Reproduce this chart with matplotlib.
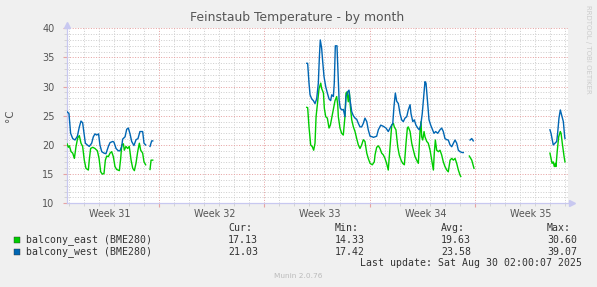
import numpy as np
import matplotlib
matplotlib.use("Agg")
import matplotlib.pyplot as plt
from matplotlib.ticker import FixedLocator, MultipleLocator, NullFormatter

# ---------------- data (time in days since graph start) ----------------
nan = np.nan
west_t = [0.00, 0.13, 0.24, 0.38, 0.53, 0.69, 0.82, 0.93, 1.04, 1.13, 1.22, 1.35, 1.48, 1.64, 1.75, 1.86,
          1.97, 2.10, 2.19, 2.31, 2.46, 2.59, 2.75, 2.86, 3.04, 3.12, 3.26, 3.41, 3.52, 3.64, 3.70, 3.86,
          3.97, 4.08, 4.19, 4.30, 4.45, 4.59, 4.72, 4.85, 5.03, 5.12, 5.23, 5.37, 5.52, 5.63, 5.70, 10.0,
          15.94, 16.00, 16.09, 16.16, 16.27, 16.38, 16.49, 16.60, 16.71, 16.78, 16.84, 16.93, 17.00, 17.09,
          17.20, 17.31, 17.42, 17.53, 17.60, 17.71, 17.77, 17.84, 17.95, 18.02, 18.09, 18.17, 18.28, 18.37,
          18.48, 18.55, 18.66, 18.75, 18.82, 18.93, 19.04, 19.15, 19.26, 19.37, 19.48, 19.59, 19.70, 19.81,
          19.93, 20.03, 20.15, 20.30, 20.37, 20.59, 20.70, 20.86, 21.03, 21.21, 21.36, 21.52, 21.66, 21.74,
          21.83, 21.92, 22.03, 22.14, 22.25, 22.36, 22.47, 22.59, 22.69, 22.81, 22.87, 22.99, 23.09, 23.20,
          23.32, 23.42, 23.52, 23.62, 23.74, 23.80, 23.87, 23.96, 24.07, 24.18, 24.31, 24.40, 24.51, 24.65,
          24.80, 24.91, 25.02, 25.13, 25.25, 25.35, 25.47, 25.58, 25.69, 25.80, 25.91, 26.02, 26.13, 26.28,
          26.35, 26.55, 26.80, 26.91, 27.01, 30.0,
          32.11, 32.18, 32.25, 32.33, 32.45, 32.56, 32.62, 32.71, 32.80, 32.89, 33.00, 33.09, 33.11]
west_v = [25.7, 25.4, 22.0, 21.1, 20.85, 21.5, 23.1, 24.1, 23.8, 22.0, 20.3, 20.0, 19.75, 20.3, 21.4, 21.9,
          21.7, 21.9, 20.0, 18.85, 18.6, 18.5, 19.75, 20.4, 20.6, 20.5, 19.4, 19.0, 19.0, 19.75, 21.0, 21.4,
          22.7, 22.9, 21.9, 20.6, 19.9, 20.9, 21.1, 22.3, 22.3, 20.3, 20.0, nan, 19.75, 20.7, 20.7, nan,
          34.0, 34.0, 30.6, 28.6, 27.9, 27.6, 27.1, 27.9, 30.6, 35.1, 38.0, 36.6, 34.3, 31.7,
          30.0, 28.9, 27.9, 27.6, 28.6, 28.3, 30.6, 37.0, 37.0, 32.3, 27.7, 26.3, 26.0, 26.1,
          24.85, 28.3, 29.1, 29.4, 27.7, 25.7, 25.0, 24.6, 24.4, 23.7, 23.1, 23.1, 23.7, 24.6,
          24.0, 22.6, 21.5, 21.4, 21.3, 21.5, 22.6, 23.4, 23.2, 22.9, 22.3, 23.1, 23.7, 26.6,
          28.9, 27.5, 27.1, 25.4, 24.3, 24.0, 24.6, 24.85, 26.0, 26.9, 25.4, 24.0, 24.3, 23.4,
          22.9, 22.6, 23.4, 25.4, 28.9, 30.85, 30.6, 27.7, 24.3, 23.4, 22.6, 22.0, 22.3, 22.0,
          22.6, 22.9, 22.3, 21.1, 20.9, 20.85, 20.0, 19.7, 20.3, 20.85, 20.3, 19.1, 18.85, 18.7,
          18.7, nan, 20.85, 21.1, 20.7, nan,
          22.6, 22.0, 21.1, 20.0, 20.3, 20.6, 22.0, 24.6, 26.0, 25.1, 24.0, 21.4, 21.1]

east_t = [0.00, 0.09, 0.16, 0.27, 0.38, 0.49, 0.60, 0.71, 0.82, 0.93, 1.04, 1.15, 1.26, 1.42, 1.48, 1.57,
          1.71, 1.86, 2.02, 2.13, 2.24, 2.35, 2.46, 2.55, 2.64, 2.75, 2.86, 2.97, 3.08, 3.19, 3.30, 3.48,
          3.57, 3.64, 3.75, 3.81, 3.92, 4.03, 4.14, 4.26, 4.37, 4.48, 4.59, 4.70, 4.81, 4.90, 5.03, 5.12,
          5.23, 5.37, 5.52, 5.59, 5.70, 10.0,
          15.94, 16.00, 16.09, 16.20, 16.31, 16.40, 16.49, 16.56, 16.65, 16.76, 16.87, 16.93, 17.05, 17.11,
          17.20, 17.31, 17.42, 17.51, 17.60, 17.71, 17.82, 17.93, 18.00, 18.04, 18.15, 18.26, 18.37, 18.48,
          18.55, 18.62, 18.70, 18.77, 18.84, 18.93, 19.04, 19.15, 19.26, 19.37, 19.48, 19.59, 19.70, 19.81,
          19.93, 20.03, 20.15, 20.30, 20.43, 20.48, 20.59, 20.70, 20.81, 20.92, 21.03, 21.14, 21.25, 21.36,
          21.48, 21.59, 21.70, 21.76, 21.87, 21.99, 22.09, 22.21, 22.32, 22.43, 22.54, 22.63, 22.69, 22.81,
          22.92, 23.03, 23.14, 23.25, 23.36, 23.47, 23.54, 23.58, 23.65, 23.74, 23.80, 23.92, 24.02, 24.14,
          24.25, 24.36, 24.42, 24.49, 24.58, 24.69, 24.80, 24.91, 25.02, 25.13, 25.25, 25.35, 25.47, 25.58,
          25.69, 25.80, 25.91, 26.02, 26.13, 26.18, 26.50, 26.75, 26.91, 27.06, 30.0,
          32.11, 32.18, 32.25, 32.33, 32.40, 32.47, 32.51, 32.60, 32.69, 32.80, 32.85, 32.93, 33.05, 33.11]
east_v = [20.2, 19.6, 19.85, 18.85, 18.6, 17.7, 19.75, 21.2, 21.6, 20.3, 19.75, 17.4, 16.0, 15.7, 17.4, 19.4,
          19.6, 19.4, 19.0, 17.7, 15.4, 15.0, 15.1, 17.4, 18.1, 18.0, 18.6, 18.85, 18.0, 16.3, 15.8, 15.6,
          17.7, 20.0, 20.2, 19.1, 19.75, 19.4, 19.75, 17.4, 16.0, 15.6, 16.9, 18.85, 20.3, 19.1, 18.6, 17.1,
          16.6, nan, 15.8, 17.4, 17.4, nan,
          26.45, 26.4, 23.1, 20.0, 19.7, 19.1, 20.3, 24.85, 27.1, 29.7, 30.6, 29.7, 28.9, 26.3,
          24.85, 24.6, 22.9, 23.4, 24.6, 26.0, 27.6, 28.3, 26.9, 24.85, 22.9, 22.0, 21.7, 24.85,
          28.9, 29.1, 27.4, 29.1, 26.6, 24.3, 23.1, 22.3, 21.1, 20.0, 19.4, 20.0, 20.9, 20.6,
          18.6, 17.7, 16.85, 16.6, 17.1, 18.3, 19.6, 19.85, 19.4, 18.6, 18.3, 17.7, 16.85, 15.7,
          19.7, 23.4, 23.7, 23.1, 22.6, 19.7, 18.3, 17.4, 16.85, 16.6, 20.3, 22.9, 23.1, 22.3,
          20.3, 19.1, 18.0, 17.4, 16.85, 22.3, 24.0, 21.4, 20.85, 22.3, 21.4, 20.6, 20.3, 19.1,
          17.4, 15.7, 18.6, 20.85, 19.1, 18.85, 19.1, 18.3, 17.1, 16.3, 15.7, 15.4, 17.4, 17.7,
          17.4, 17.7, 16.85, 15.7, 14.85, 14.6, nan, 18.1, 17.4, 16.0, nan,
          18.6, 17.7, 16.85, 17.1, 16.3, 16.85, 16.3, 19.1, 21.4, 22.3, 22.0, 20.3, 18.0, 17.1]

series_names = ["balcony_east (BME280)", "balcony_west (BME280)"]
series_colors = ["#00CC00", "#0066B3"]
cur_vals = ["17.13", "21.03"]
min_vals = ["14.33", "17.42"]
avg_vals = ["19.63", "23.58"]
max_vals = ["30.60", "39.07"]
week_labels = ["Week 31", "Week 32", "Week 33", "Week 34", "Week 35"]
week_starts = [-0.88, 6.12, 13.12, 20.12, 27.12]
span_days = 33.31
title = "Feinstaub Temperature - by month"
ylabel = "°C"
last_update = "Last update: Sat Aug 30 02:00:07 2025"
footer = "Munin 2.0.76"
side_text = "RRDTOOL / TOBI OETIKER"

# ---------------- figure ----------------
W, H = 597, 287
fig = plt.figure(figsize=(W / 100, H / 100), dpi=100, facecolor="#F0F0F0")
x0, x1, y0, y1 = 67, 568, 28.3, 203.3
ax = fig.add_axes([x0 / W, 1 - y1 / H, (x1 - x0) / W, (y1 - y0) / H])
ax.set_facecolor("white")
ax.set_xlim(0, span_days)
ax.set_ylim(10, 40)

txtc = "#555555"
minor_c = "#CFCFCF"
major_c = "#E6A3A3"
grid_kw = dict(lw=0.72, ls=(0, (1, 1.6)))

# grid
for d in np.arange(0.12, span_days, 1.0):
    if any(abs(d - w) < 0.01 for w in week_starts):
        continue
    ax.axvline(d, color=minor_c, zorder=1, **grid_kw)
for w in week_starts[1:]:
    ax.axvline(w, color=major_c, zorder=1.1, **grid_kw)
for v in range(11, 40):
    if v % 5:
        ax.axhline(v, color=minor_c, zorder=1, **grid_kw)
for v in range(15, 41, 5):
    ax.axhline(v, color=major_c, zorder=1.1, **grid_kw)

# data lines
ax.plot(east_t, east_v, color=series_colors[0], lw=1.0, zorder=3)
ax.plot(west_t, west_v, color=series_colors[1], lw=1.0, zorder=3)

# axes styling
for s in ["top", "right"]:
    ax.spines[s].set_visible(False)
axis_c = "#C8C8F0"
ax.spines["left"].set_color(axis_c)
ax.spines["bottom"].set_color(axis_c)
ax.spines["left"].set_linewidth(0.9)
ax.spines["bottom"].set_linewidth(0.9)

ax.yaxis.set_major_locator(FixedLocator(range(10, 41, 5)))
ax.yaxis.set_minor_locator(MultipleLocator(1))
ax.set_yticklabels([str(v) for v in range(10, 41, 5)])
ax.tick_params(axis="y", which="major", length=3, color=major_c, labelsize=7.0,
               labelcolor=txtc, pad=6)
ax.tick_params(axis="y", which="minor", length=2, color=minor_c)
ax.xaxis.set_major_locator(FixedLocator(week_starts[1:]))
ax.xaxis.set_major_formatter(NullFormatter())
ax.xaxis.set_minor_locator(FixedLocator([d for d in np.arange(0.12, span_days, 1.0)]))
ax.tick_params(axis="x", which="major", length=3, color=major_c, direction="out")
ax.tick_params(axis="x", which="minor", length=2, color=minor_c)

for w, lab in zip(week_starts, week_labels):
    ax.text(w + 3.7, -0.035, lab, transform=ax.get_xaxis_transform(), ha="center", va="top",
            fontsize=6.9, color=txtc)

# axis arrows
ax.plot([0], [40.6], marker="^", ms=4, color=axis_c, clip_on=False, zorder=5)
ax.plot([span_days + 0.25], [10], marker=">", ms=4, color=axis_c, clip_on=False, zorder=5)

# texts
fig.text(297 / W, 1 - 18 / H, title, ha="center", va="center", fontsize=8.9, color=txtc)
fig.text(10 / W, 1 - 116 / H, ylabel, ha="center", va="center", rotation=90, fontsize=7.5, color=txtc)
fig.text(588 / W, 1 - 5 / H, side_text, ha="center", va="top", rotation=270, fontsize=5.0, color="#CCCCCC")

mono = "DejaVu Sans Mono"
fs = 7.1
fig.text(228 / W, 1 - 228 / H, "Cur:", ha="left", va="center", family=mono, fontsize=fs, color="#333333")
fig.text(335 / W, 1 - 228 / H, "Min:", ha="left", va="center", family=mono, fontsize=fs, color="#333333")
fig.text(441 / W, 1 - 228 / H, "Avg:", ha="left", va="center", family=mono, fontsize=fs, color="#333333")
fig.text(547 / W, 1 - 228 / H, "Max:", ha="left", va="center", family=mono, fontsize=fs, color="#333333")
rows_y = [240, 251.7]
for i in range(2):
    yy = 1 - rows_y[i] / H
    fig.patches.append(plt.Rectangle((14 / W, yy - 3 / H), 6 / W, 6 / H, transform=fig.transFigure,
                                     facecolor=series_colors[i], edgecolor="#333333", lw=0.3))
    fig.text(26 / W, yy, series_names[i], ha="left", va="center", family=mono, fontsize=fs, color="#333333")
    fig.text(228 / W, yy, cur_vals[i], ha="left", va="center", family=mono, fontsize=fs, color="#333333")
    fig.text(335 / W, yy, min_vals[i], ha="left", va="center", family=mono, fontsize=fs, color="#333333")
    fig.text(441 / W, yy, avg_vals[i], ha="left", va="center", family=mono, fontsize=fs, color="#333333")
    fig.text(547 / W, yy, max_vals[i], ha="left", va="center", family=mono, fontsize=fs, color="#333333")
fig.text(582 / W, 1 - 263.5 / H, last_update, ha="right", va="center", family=mono, fontsize=fs, color="#333333")
fig.text(298 / W, 1 - 276 / H, footer, ha="center", va="center", fontsize=5.3, color="#BBBBBB")

fig.savefig("out.png", dpi=100, facecolor=fig.get_facecolor())
